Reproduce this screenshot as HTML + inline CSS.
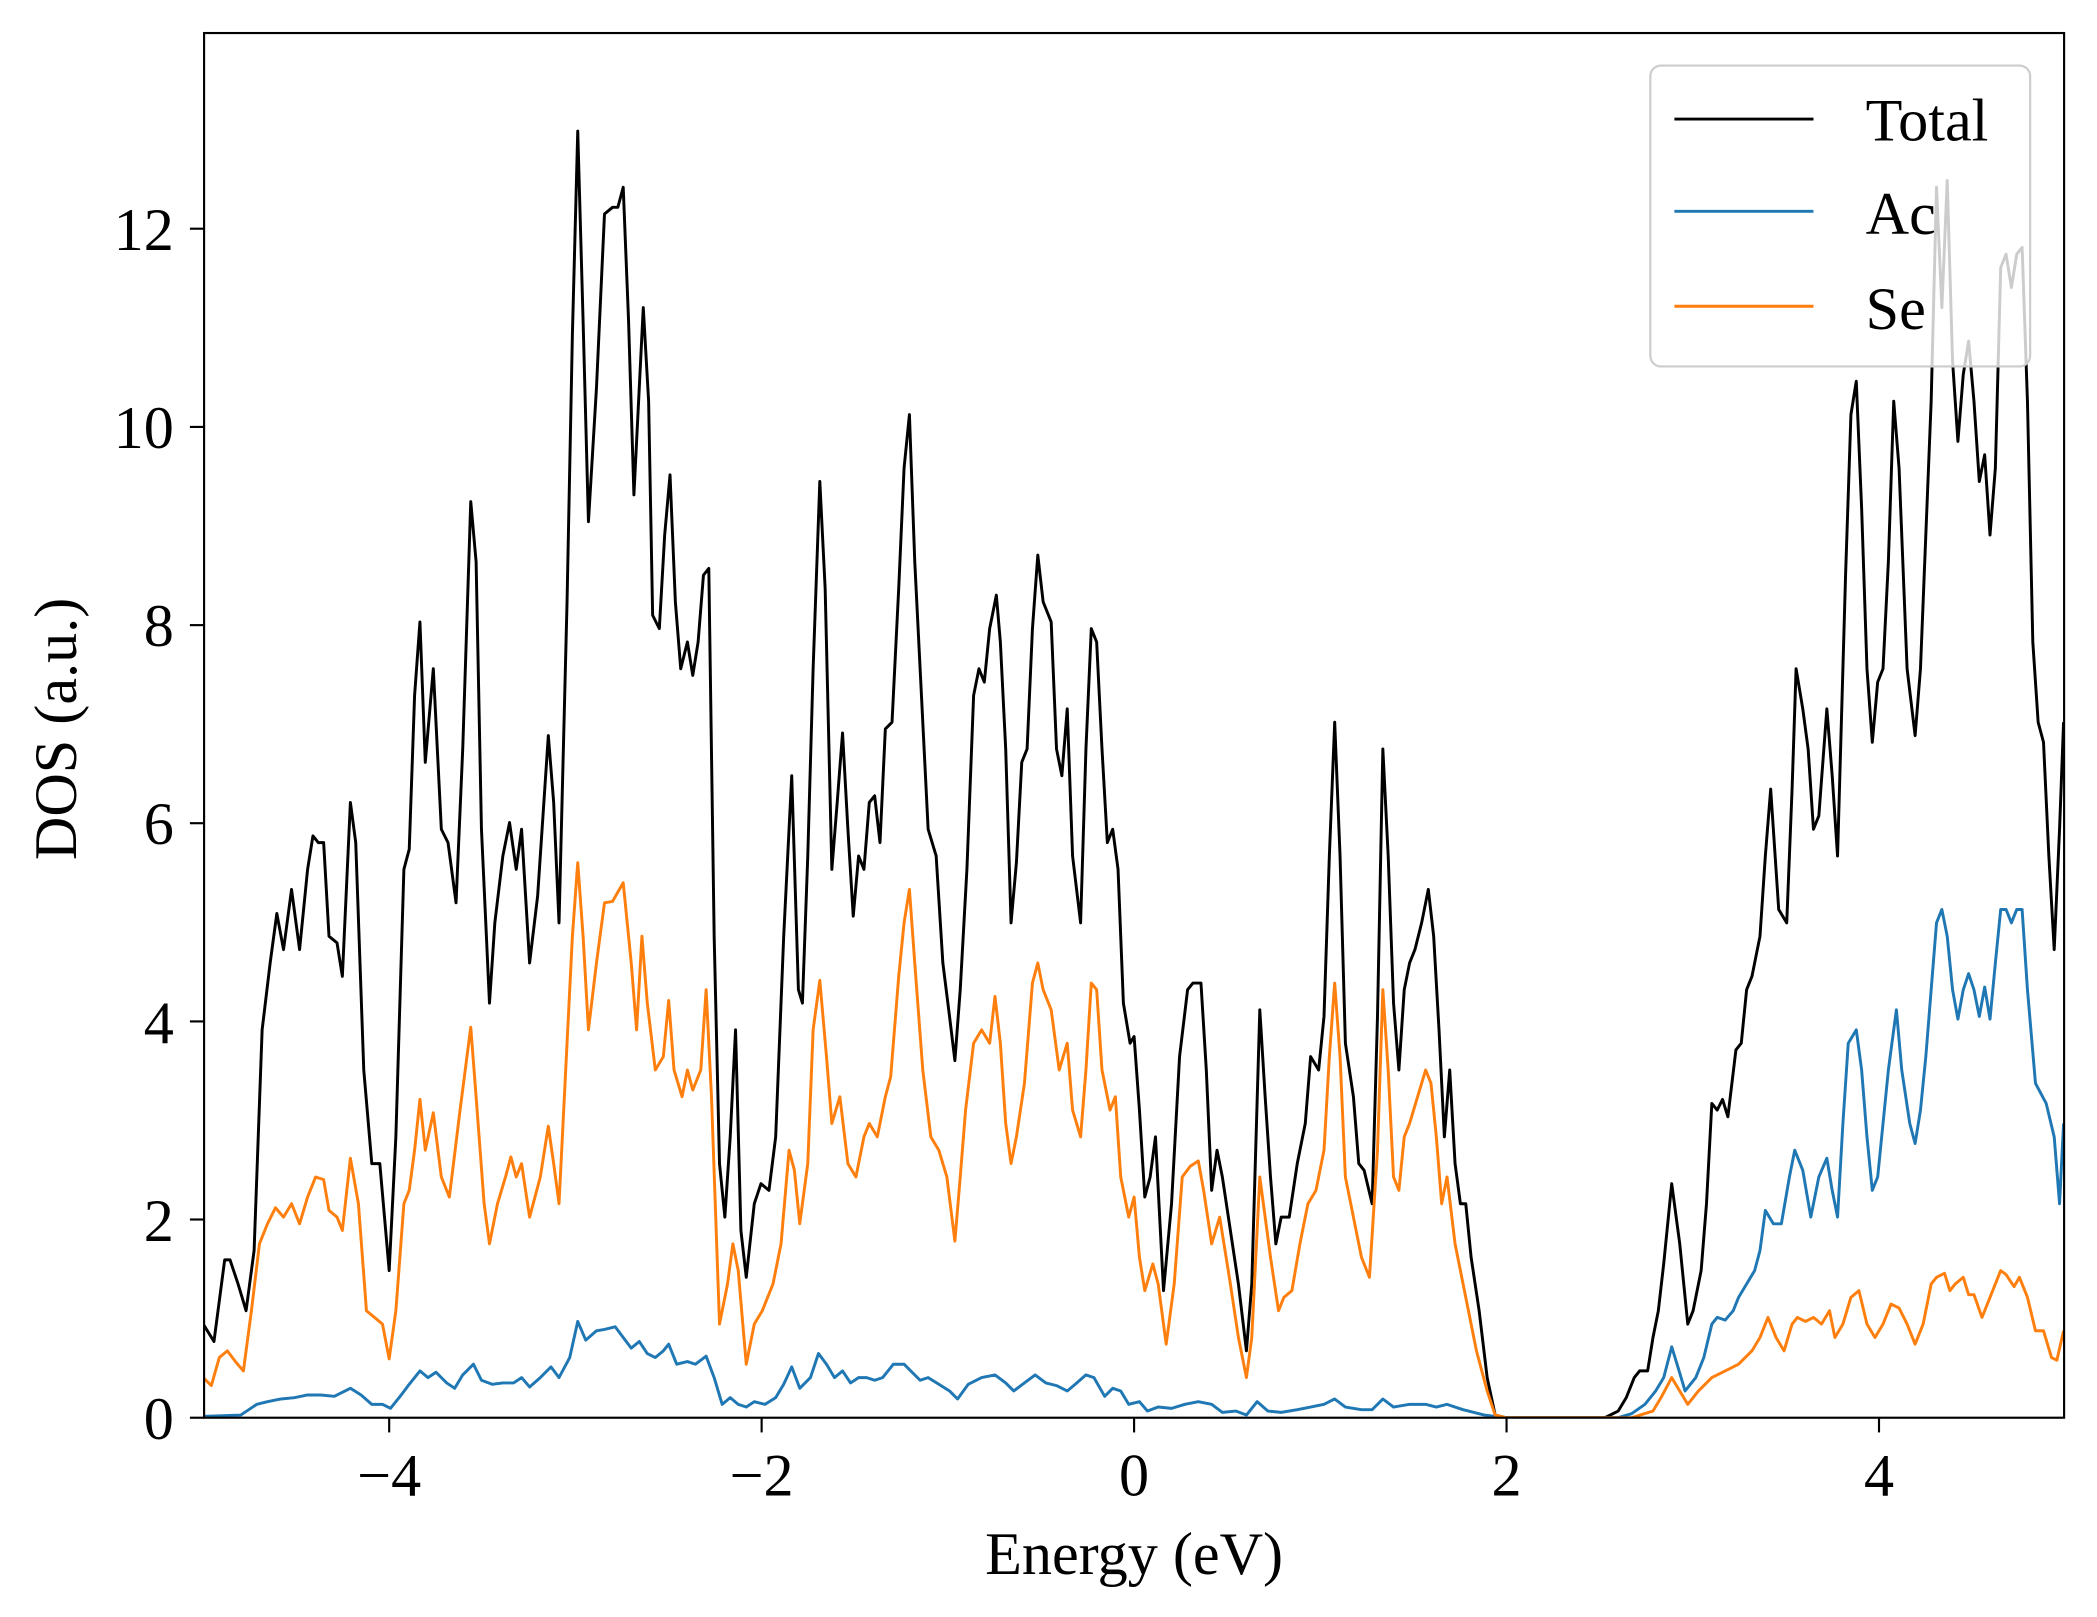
<!DOCTYPE html>
<html><head><meta charset="utf-8"><style>html,body{margin:0;padding:0;background:#fff}svg{display:block}</style></head>
<body>
<svg width="2097" height="1617" viewBox="0 0 1568 1209" preserveAspectRatio="none" xmlns="http://www.w3.org/2000/svg" font-family="Liberation Serif, serif">
<rect width="1568" height="1209" fill="#fff"/>
<defs><clipPath id="c"><rect x="152.6" y="24.7" width="1390.8" height="1035.3"/></clipPath></defs>
<g clip-path="url(#c)" fill="none" stroke-width="2.2" stroke-linejoin="round">
<polyline stroke="#000" points="152,990 160,1003 168,942 172,942 178,960 184,980 190,935 196,770 202,720 207,683 212,710 218,665 224,710 230,650 234,625 238,630 242,630 246,700 252,705 256,730 262,600 266,630 272,800 278,870 284,870 291,950 296,850 302,650 306,635 310,520 314,465 318,570 324,500 330,620 335,630 341,675 346,560 352,375 356,420 360,620 366,750 370,690 376,640 381,615 386,650 390,620 396,720 402,670 410,550 414,600 418,690 424,450 428,250 432,98 436,240 440,390 446,290 452,160 458,155 462,155 466,140 470,240 474,370 478,290 481,230 485,300 488,460 493,470 497,400 501,355 505,450 509,500 514,480 518,505 522,480 526,430 530,425 534,700 538,870 542,910 546,850 550,770 554,920 558,955 564,900 569,885 575,890 580,850 586,700 592,580 597,740 600,750 604,640 608,500 613,360 617,440 622,650 626,600 630,548 634,620 638,685 642,640 646,650 650,600 654,595 658,630 662,545 667,540 672,440 676,350 680,310 684,420 688,500 694,620 700,640 705,720 710,760 714,793 718,740 723,650 728,520 732,500 736,510 740,470 745,445 748,480 752,560 756,690 760,645 764,570 768,560 772,470 776,415 780,450 786,465 790,560 794,580 798,530 802,640 808,690 812,560 816,470 820,480 824,560 828,630 832,620 836,650 840,750 845,780 848,775 852,830 856,895 860,880 864,850 870,965 876,900 882,790 888,740 892,735 898,735 902,800 906,890 910,860 914,880 920,920 926,960 932,1010 936,960 942,755 946,820 950,880 954,930 958,910 964,910 970,870 976,840 980,790 986,800 990,760 994,640 998,540 1002,640 1006,780 1012,820 1016,870 1020,875 1026,900 1030,760 1034,560 1038,640 1042,750 1046,800 1050,740 1054,720 1058,710 1063,690 1068,665 1072,700 1076,770 1080,850 1084,800 1088,870 1092,900 1096,900 1100,940 1106,980 1112,1030 1118,1058 1126,1060 1200,1060 1210,1055 1216,1045 1222,1030 1226,1025 1232,1025 1236,1000 1240,980 1244,945 1250,885 1256,930 1262,990 1266,980 1272,950 1276,900 1280,825 1284,830 1288,822 1292,835 1298,785 1302,780 1306,740 1310,730 1316,700 1320,640 1324,590 1330,680 1336,690 1340,590 1343,500 1348,530 1352,560 1356,620 1360,610 1366,530 1370,580 1374,640 1380,430 1384,310 1388,285 1392,380 1396,500 1400,555 1404,510 1408,500 1412,420 1416,300 1420,350 1426,500 1432,550 1436,500 1440,400 1444,300 1448,140 1452,230 1456,135 1460,270 1464,330 1468,280 1472,255 1476,300 1480,360 1484,340 1488,400 1492,350 1496,200 1500,190 1504,215 1508,190 1512,185 1516,300 1520,480 1524,540 1528,555 1532,640 1536,710 1540,620 1543,540"/>
<polyline stroke="#1f77b4" points="152,1059 180,1058 192,1050 200,1048 210,1046 220,1045 230,1043 240,1043 250,1044 262,1038 270,1043 278,1050 286,1050 292,1053 300,1043 306,1035 314,1025 320,1030 326,1026 334,1034 340,1038 346,1028 354,1020 360,1032 368,1035 376,1034 384,1034 390,1030 396,1037 404,1030 412,1022 418,1030 426,1015 432,988 438,1002 446,995 452,994 460,992 466,1000 472,1008 478,1003 484,1012 490,1015 496,1010 500,1005 506,1020 514,1018 520,1020 528,1014 534,1030 540,1050 546,1045 552,1050 558,1052 564,1048 572,1050 580,1045 586,1035 592,1022 598,1038 606,1030 612,1012 618,1020 624,1030 630,1025 636,1034 642,1030 648,1030 654,1032 660,1030 668,1020 676,1020 682,1026 688,1032 694,1030 702,1035 710,1040 716,1046 724,1035 734,1030 744,1028 752,1034 758,1040 766,1034 774,1028 782,1034 790,1036 798,1040 804,1035 812,1028 818,1030 826,1044 832,1038 838,1040 844,1050 852,1048 858,1055 866,1052 876,1053 886,1050 896,1048 906,1050 914,1056 924,1055 932,1058 940,1048 948,1055 958,1056 970,1054 980,1052 990,1050 998,1046 1006,1052 1018,1054 1026,1054 1034,1046 1042,1052 1054,1050 1066,1050 1074,1052 1082,1050 1094,1054 1110,1058 1126,1060 1210,1060 1220,1057 1230,1050 1238,1040 1244,1030 1250,1007 1254,1020 1260,1040 1268,1030 1274,1015 1280,990 1284,985 1290,987 1296,980 1300,970 1306,960 1312,950 1316,935 1320,905 1326,915 1332,915 1338,880 1342,860 1348,875 1354,910 1360,880 1366,866 1370,890 1374,910 1378,840 1382,780 1388,770 1392,800 1396,850 1400,890 1404,880 1408,840 1412,800 1418,755 1422,800 1428,840 1432,855 1436,830 1440,790 1444,740 1448,690 1452,680 1456,700 1460,740 1464,762 1468,740 1472,728 1476,740 1480,760 1484,738 1488,762 1492,720 1496,680 1500,680 1504,690 1508,680 1512,680 1516,740 1522,810 1530,825 1536,850 1540,900 1543,840"/>
<polyline stroke="#ff7f0e" points="152,1030 158,1036 164,1015 170,1010 176,1018 182,1025 188,980 194,930 200,915 206,903 212,910 218,900 224,915 230,895 236,880 242,882 246,905 252,910 256,920 262,866 268,900 274,980 280,985 286,990 291,1016 296,980 302,900 306,890 310,860 314,822 318,860 324,832 330,880 336,895 344,830 352,768 356,820 362,900 366,930 372,900 378,880 382,865 386,880 390,870 396,910 404,880 410,842 414,870 418,900 424,780 428,700 432,645 436,700 440,770 446,720 452,675 458,674 466,660 472,720 476,770 480,700 484,750 490,800 496,790 500,748 504,800 510,820 514,800 518,815 524,800 528,740 532,820 538,990 544,960 548,930 552,950 558,1020 564,990 570,980 578,960 584,930 590,860 594,875 598,915 604,870 608,770 613,733 618,790 622,840 628,820 634,870 640,880 646,850 650,840 656,850 662,820 666,805 672,730 676,690 680,665 684,720 690,800 696,850 702,860 708,880 714,928 718,880 722,830 728,780 734,770 740,780 744,745 748,780 752,840 756,870 760,850 766,810 772,735 776,720 780,740 786,755 792,800 798,780 802,830 808,850 812,800 816,735 820,740 824,800 830,830 834,820 838,880 844,910 848,895 852,940 856,965 862,945 866,960 872,1005 878,960 884,880 890,872 896,868 900,890 906,930 912,910 920,960 926,1000 932,1030 936,1000 942,880 946,910 950,940 956,980 960,970 966,965 972,930 978,900 984,890 990,860 994,790 998,735 1002,790 1006,880 1012,910 1018,940 1024,955 1030,860 1034,740 1038,800 1042,880 1046,890 1050,850 1054,840 1060,820 1066,800 1070,810 1074,850 1078,900 1082,880 1088,930 1096,970 1104,1010 1112,1040 1118,1058 1126,1060 1220,1060 1236,1055 1242,1045 1250,1030 1256,1040 1262,1050 1270,1040 1280,1030 1290,1025 1300,1020 1310,1010 1316,1000 1322,985 1328,1000 1334,1010 1340,990 1344,985 1350,988 1356,985 1362,990 1368,980 1372,1000 1378,990 1384,970 1390,965 1396,990 1402,1000 1408,990 1414,975 1420,978 1426,990 1432,1005 1438,990 1444,960 1448,955 1454,952 1458,965 1462,960 1468,955 1472,968 1476,968 1482,985 1490,965 1496,950 1500,953 1506,962 1510,955 1516,970 1522,995 1528,995 1534,1015 1538,1017 1543,995"/>
</g>
<rect x="152.6" y="24.7" width="1390.8" height="1035.3" fill="none" stroke="#000" stroke-width="1.6"/>
<g stroke="#000" stroke-width="1.6">
<line x1="291" y1="1060" x2="291" y2="1071"/><line x1="569.5" y1="1060" x2="569.5" y2="1071"/><line x1="848" y1="1060" x2="848" y2="1071"/><line x1="1126.5" y1="1060" x2="1126.5" y2="1071"/><line x1="1405" y1="1060" x2="1405" y2="1071"/>
<line x1="142" y1="1060" x2="152.6" y2="1060"/><line x1="142" y1="911.8" x2="152.6" y2="911.8"/><line x1="142" y1="763.7" x2="152.6" y2="763.7"/><line x1="142" y1="615.5" x2="152.6" y2="615.5"/><line x1="142" y1="467.4" x2="152.6" y2="467.4"/><line x1="142" y1="319.2" x2="152.6" y2="319.2"/><line x1="142" y1="171" x2="152.6" y2="171"/>
</g>
<g font-size="45" fill="#000" text-anchor="middle">
<text x="291" y="1118">−4</text><text x="569.5" y="1118">−2</text><text x="848" y="1118">0</text><text x="1126.5" y="1118">2</text><text x="1405" y="1118">4</text>
</g>
<g font-size="45" fill="#000" text-anchor="end">
<text x="130" y="1076">0</text><text x="130" y="928">2</text><text x="130" y="780">4</text><text x="130" y="631">6</text><text x="130" y="483">8</text><text x="130" y="335">10</text><text x="130" y="187">12</text>
</g>
<text x="848" y="1177" font-size="45" text-anchor="middle">Energy (eV)</text>
<text transform="translate(57,545) rotate(-90)" font-size="45" text-anchor="middle">DOS (a.u.)</text>
<rect x="1234" y="49" width="284" height="225" rx="8" fill="#fff" fill-opacity="0.8" stroke="#ccc" stroke-width="1.6"/>
<line x1="1252" y1="89" x2="1356" y2="89" stroke="#000" stroke-width="2.2"/>
<line x1="1252" y1="158" x2="1356" y2="158" stroke="#1f77b4" stroke-width="2.2"/>
<line x1="1252" y1="229" x2="1356" y2="229" stroke="#ff7f0e" stroke-width="2.2"/>
<g font-size="45" fill="#000"><text x="1395" y="105">Total</text><text x="1395" y="175">Ac</text><text x="1395" y="246">Se</text></g>
</svg>
</body></html>
